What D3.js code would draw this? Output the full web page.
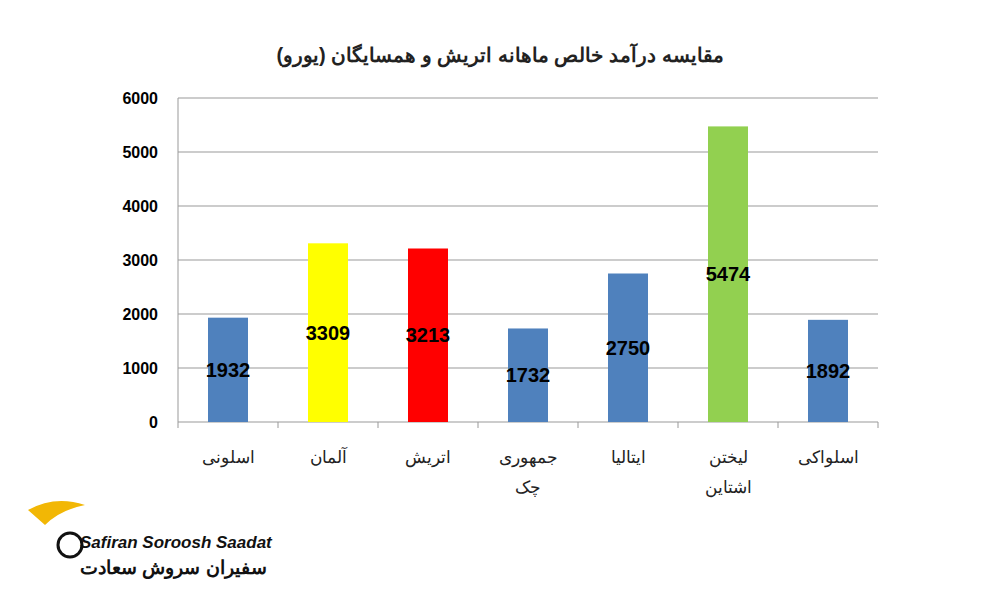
<!DOCTYPE html>
<html><head><meta charset="utf-8">
<script src="https://cdn.jsdelivr.net/npm/d3@7/dist/d3.min.js"></script>
<style>body{margin:0;background:#fff}</style></head>
<body><svg id="c" width="1000" height="600"></svg>
<script>
const categories = [["اسلونی"],["آلمان"],["اتریش"],["جمهوری","چک"],["ایتالیا"],["لیختن","اشتاین"],["اسلواکی"]];
const values = [1932,3309,3213,1732,2750,5474,1892];
const colors = ["#4f81bd","#ffff00","#ff0000","#4f81bd","#4f81bd","#92d050","#4f81bd"];
const yTicks = [0,1000,2000,3000,4000,5000,6000];
const title = "مقایسه درآمد خالص ماهانه اتریش و همسایگان (یورو)";

const svg = d3.select("#c");
const font = "Arial, 'Liberation Sans', sans-serif";
const x = d3.scaleBand().domain(d3.range(values.length)).range([178,878]);
const y = d3.scaleLinear().domain([0,6000]).range([422,98]);

svg.append("g").selectAll("line").data(yTicks).join("line")
  .attr("x1",178).attr("x2",878).attr("y1",d=>y(d)).attr("y2",d=>y(d))
  .attr("stroke","#999").attr("stroke-width",1);
svg.append("line").attr("x1",178).attr("x2",178).attr("y1",98).attr("y2",422).attr("stroke","#999");
svg.append("g").selectAll("line").data(d3.range(values.length+1)).join("line")
  .attr("x1",d=>178+d*100).attr("x2",d=>178+d*100).attr("y1",422).attr("y2",428).attr("stroke","#999");

svg.append("g").selectAll("text").data(yTicks).join("text")
  .attr("x",158).attr("y",d=>y(d)).attr("dy","0.35em").attr("text-anchor","end")
  .attr("font-family",font).attr("font-weight","bold").attr("font-size",16).text(d=>d);

const bw = 40;
svg.append("g").selectAll("rect").data(values).join("rect")
  .attr("x",(d,i)=>x(i)+x.bandwidth()/2-bw/2).attr("width",bw)
  .attr("y",d=>y(d)).attr("height",d=>y(0)-y(d)).attr("fill",(d,i)=>colors[i]);

svg.append("g").selectAll("text").data(values).join("text")
  .attr("x",(d,i)=>x(i)+x.bandwidth()/2).attr("y",d=>(y(d)+y(0))/2).attr("dy","0.35em")
  .attr("text-anchor","middle").attr("font-family",font).attr("font-weight","bold").attr("font-size",20)
  .text(d=>d);

const cg = svg.append("g");
categories.forEach((lines,i)=>{
  lines.forEach((t,j)=>{
    cg.append("text").attr("x",x(i)+x.bandwidth()/2).attr("y",463+j*30)
      .attr("text-anchor","middle").attr("font-family",font).attr("font-size",17).attr("fill","#222").text(t);
  });
});

svg.append("text").attr("x",500).attr("y",62).attr("text-anchor","middle")
  .attr("font-family",font).attr("font-weight","bold").attr("font-size",20).attr("fill","#222").text(title);

// logo
svg.append("text").attr("x",80).attr("y",548).attr("font-family",font).attr("font-style","italic")
  .attr("font-weight","bold").attr("font-size",17).attr("fill","#111").text("Safiran Soroosh Saadat");
svg.append("text").attr("x",80).attr("y",574).attr("font-family",font)
  .attr("font-weight","bold").attr("font-size",19).attr("fill","#111").text("سفیران سروش سعادت");
svg.append("path").attr("d","M28,510 Q55,495 85,505 Q60,510 45,525 Z").attr("fill","#f2b705");
svg.append("circle").attr("cx",70).attr("cy",545).attr("r",12).attr("fill","none").attr("stroke","#111").attr("stroke-width",3);
</script></body></html>
